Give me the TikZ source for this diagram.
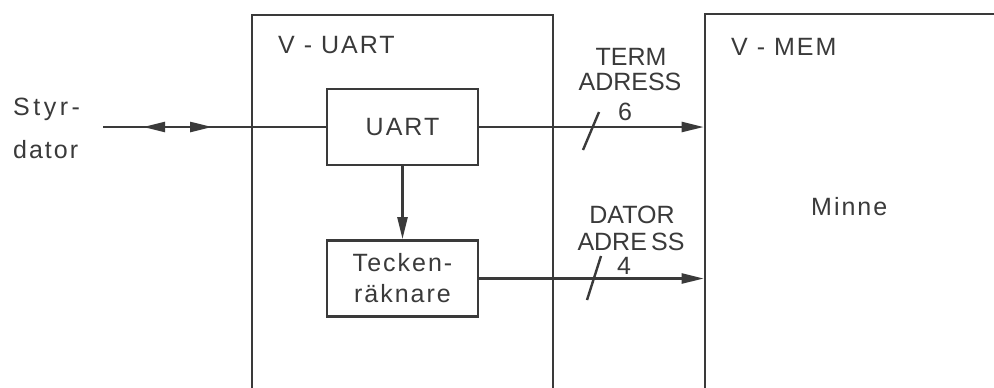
\documentclass[tikz,border=0pt]{standalone}
\usepackage{fontspec}
\setmainfont{Liberation Sans}
\newfontfamily\wide[LetterSpace=8]{Liberation Sans}
\newfontfamily\wider[LetterSpace=14]{Liberation Sans}
\usetikzlibrary{arrows.meta,decorations.markings}
\definecolor{ink}{HTML}{3A3A3A}
\begin{document}
\begin{tikzpicture}[x=0.5pt,y=-0.5pt,
  line width=1.2pt, color=ink,
  frame/.style={draw=ink, line width=1.3pt, inner sep=0pt},
  blk/.style={draw=ink, line width=1.4pt, inner sep=0pt, align=center,
     minimum width=75.5pt, minimum height=38pt,
     font=\wide\fontsize{12.5}{15.5}\selectfont},
  lbl/.style={inner sep=0pt, font=\wide\fontsize{12.5}{15}\selectfont},
  nlbl/.style={inner sep=0pt, font=\fontsize{12.5}{15}\selectfont},
  tip/.style={-{Triangle[length=11pt,width=5pt]}},
  dbl/.style={postaction={decorate},
    decoration={markings,
      mark=at position 0.18 with {\arrowreversed{Triangle[length=11pt,width=5pt]}},
      mark=at position 0.49 with {\arrow{Triangle[length=11pt,width=5pt]}}}}
]
\path[use as bounding box] (0,0) rectangle (994,387);
\clip (0,0) rectangle (994,387);
\fill[white] (0,0) rectangle (994,387);

% outer frames (open at the bottom / right, cut by the picture edge)
\node[frame, minimum width=150.5pt, minimum height=202.5pt] (vuart) at (402.5,217.5) {};
\node[frame, minimum width=152.5pt, minimum height=203pt] (vmem) at (857.5,217) {};

% inner blocks
\node[blk] (uart) at (402.5,127) {UART};
\node[blk] (teck) at (402.5,278.5) {Tecken-\\räknare};

% labels
\node[lbl, anchor=base west] (vuartl) at (277,53) {V - UART};
\node[lbl, anchor=base west] (vmeml) at (730,55) {V - MEM};
\node[lbl, anchor=base west, font=\wide\fontsize{12.5}{15}\selectfont] (minne) at (810,215) {Minne};
\node[lbl, anchor=base west, font=\wider\fontsize{12.5}{15}\selectfont] (styr) at (12,115) {Styr-};
\node[lbl, anchor=base west] (dator) at (12,158) {dator};

\node[nlbl, anchor=base] (term) at (631,65) {TERM};
\node[nlbl, anchor=base] (adr1) at (630,90) {ADRESS};
\node[nlbl, anchor=base] (six) at (625,120) {6};
\node[nlbl, anchor=base] (datl) at (632,223) {DATOR};
\node[nlbl, anchor=base] (adr2) at (631,250) {ADRE\,SS};
\node[nlbl, anchor=base] (four) at (624,274) {4};

% connectors
\coordinate (sd) at (103,127);
\draw[dbl] (sd) -- (uart.west);
\draw[tip] (uart.east) -- (uart.east -| vmem.west);
\draw[tip] (uart.south) -- (teck.north);
\draw[tip] (teck.east) -- (teck.east -| vmem.west);

% bus width slashes
\coordinate (s1a) at (583,150); \coordinate (s1b) at (599,112);
\coordinate (s2a) at (587,300); \coordinate (s2b) at (601,256);
\draw (s1a) -- (s1b);
\draw (s2a) -- (s2b);
\end{tikzpicture}
\end{document}
